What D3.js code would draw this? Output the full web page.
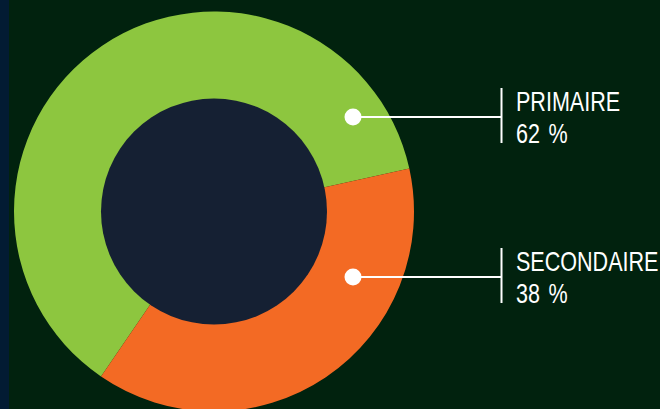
<!DOCTYPE html>
<html>
<head>
<meta charset="utf-8">
<script src="https://cdn.jsdelivr.net/npm/d3@7"></script>
<style>
  body { margin: 0; background: #01220e; }
  svg { display: block; }
  .lbl { font-family: "Liberation Sans", Arial, sans-serif; font-size: 28px; fill: #fff; }
</style>
</head>
<body>
<div id="container"></div>
<script>
/* CONSTANTS AND GLOBALS */
const width = 660, height = 409
const cx = 214, cy = 211.5
const outerR = 200, innerR = 113

// data
const categories = ["PRIMAIRE", "SECONDAIRE"]
const values = [62, 38]
const colors = ["#8dc63f", "#f36a24"]
const labelY = [117, 277]

const svg = d3.select("#container")
  .append("svg")
  .attr("width", width)
  .attr("height", height)

// background + left strip
svg.append("rect").attr("width", width).attr("height", height).attr("fill", "#01220e")
svg.append("rect").attr("width", 9).attr("height", height).attr("fill", "#021b33")

const g = svg.append("g").attr("transform", `translate(${cx},${cy})`)

// PIE
const start = 214.4 * Math.PI / 180
const pie = d3.pie()
  .sort(null)
  .startAngle(start)
  .endAngle(start + 2 * Math.PI)

const arc = d3.arc().innerRadius(innerR - 2).outerRadius(outerR)

g.selectAll(".slice")
  .data(pie(values))
  .join("path")
  .attr("class", "slice")
  .attr("fill", (d, i) => colors[i])
  .attr("d", arc)

// hole
g.append("circle").attr("r", innerR).attr("fill", "#152033")

// LABELS
const dotX = cx + 139, barX = 501.5, textX = 516
const squeeze = 0.77 // condensed look

const lab = svg.selectAll(".lab")
  .data(categories)
  .join("g")
  .attr("class", "lab")

lab.append("line")
  .attr("x1", dotX).attr("x2", barX)
  .attr("y1", (d, i) => labelY[i]).attr("y2", (d, i) => labelY[i])
  .attr("stroke", "#fff").attr("stroke-width", 2)

lab.append("line")
  .attr("x1", barX).attr("x2", barX)
  .attr("y1", (d, i) => labelY[i] - 29).attr("y2", (d, i) => labelY[i] + 26)
  .attr("stroke", "#fff").attr("stroke-width", 2)

lab.append("circle")
  .attr("cx", dotX).attr("cy", (d, i) => labelY[i])
  .attr("r", 8.5).attr("fill", "#fff")

lab.append("text")
  .attr("class", "lbl")
  .attr("transform", (d, i) => `translate(${textX},${labelY[i] - 6}) scale(${squeeze},1)`)
  .text(d => d)

lab.append("text")
  .attr("class", "lbl")
  .attr("transform", (d, i) => `translate(${textX},${labelY[i] + 25.5}) scale(${squeeze},1)`)
  .text((d, i) => values[i] + "\u2009\u2009%")
</script>
</body>
</html>
